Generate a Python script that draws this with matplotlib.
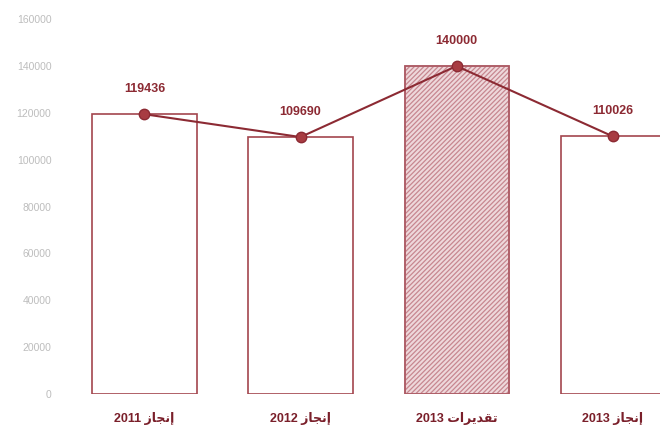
import matplotlib
matplotlib.use("Agg")
import matplotlib.pyplot as plt

# data
years = ["2011", "2012", "2013", "2013"]
kinds = ["إنجاز", "إنجاز", "تقديرات", "إنجاز"]
values = [119436, 109690, 140000, 110026]
y_ticks = [0, 20000, 40000, 60000, 80000, 100000, 120000, 140000, 160000]

# simple arabic shaping (presentation forms), matplotlib has no bidi/shaping
forms = {
    "ا": ("\uFE8D", "\uFE8E", None, None),
    "إ": ("\uFE87", "\uFE88", None, None),
    "د": ("\uFEA9", "\uFEAA", None, None),
    "ر": ("\uFEAD", "\uFEAE", None, None),
    "ز": ("\uFEAF", "\uFEB0", None, None),
    "ن": ("\uFEE5", "\uFEE6", "\uFEE7", "\uFEE8"),
    "ج": ("\uFE9D", "\uFE9E", "\uFE9F", "\uFEA0"),
    "ت": ("\uFE95", "\uFE96", "\uFE97", "\uFE98"),
    "ق": ("\uFED5", "\uFED6", "\uFED7", "\uFED8"),
    "ي": ("\uFEF1", "\uFEF2", "\uFEF3", "\uFEF4"),
}


def shape(word):
    out = []
    for i, c in enumerate(word):
        prev = i > 0 and forms[word[i - 1]][2] is not None
        nxt = i < len(word) - 1 and forms[c][2] is not None
        if prev and nxt:
            out.append(forms[c][3])
        elif prev:
            out.append(forms[c][1])
        elif nxt:
            out.append(forms[c][2])
        else:
            out.append(forms[c][0])
    return "".join(reversed(out))


labels = [y + " " + shape(k) for y, k in zip(years, kinds)]

red = "#8c2a33"
edge = "#a3454e"

plt.rcParams["hatch.linewidth"] = 0.9

fig = plt.figure(figsize=(6.6, 4.43), dpi=100)
ax = fig.add_axes([0, 49 / 443, 1, 394 / 443])

x = list(range(len(values)))
bars = ax.bar(x, values, width=0.667, color="white", edgecolor=edge, linewidth=1.2, zorder=1)
# hatched estimate bar: hatch uses edgecolor, so outline goes on top separately
bars[2].set_facecolor("#eed8db")
bars[2].set_hatch("///////")
bars[2].set_edgecolor("#c78790")
ax.bar(x[2], values[2], width=0.667, fill=False, edgecolor="#ab5862", linewidth=1.2, zorder=2)

ax.plot(x, values, color=red, linewidth=1.5, marker="o", markersize=7.5,
        markerfacecolor="#a83c42", markeredgecolor=red, zorder=3)

for i, v in enumerate(values):
    ax.annotate(str(v), (i, v), xytext=(0, 18), textcoords="offset points",
                ha="center", va="center", fontsize=9, fontweight="bold",
                color=red, family=["Liberation Sans", "DejaVu Sans"])

ax.set_xlim(-0.926, 3.304)
ax.set_ylim(0, 168200)
ax.set_xticks(x)
ax.set_xticklabels(labels, fontsize=9, fontweight="bold", color="#7a1f2a",
                   family=["Liberation Sans", "DejaVu Sans"])
ax.set_yticks(y_ticks)
ax.set_yticklabels([str(t) for t in y_ticks], fontsize=7.5, color="#bdbdbd",
                   family=["Liberation Sans", "DejaVu Sans"])
ax.tick_params(axis="x", length=0, pad=13)
ax.tick_params(axis="y", length=0, pad=-37)
for s in ax.spines.values():
    s.set_visible(False)

fig.savefig("out.png", dpi=100)
